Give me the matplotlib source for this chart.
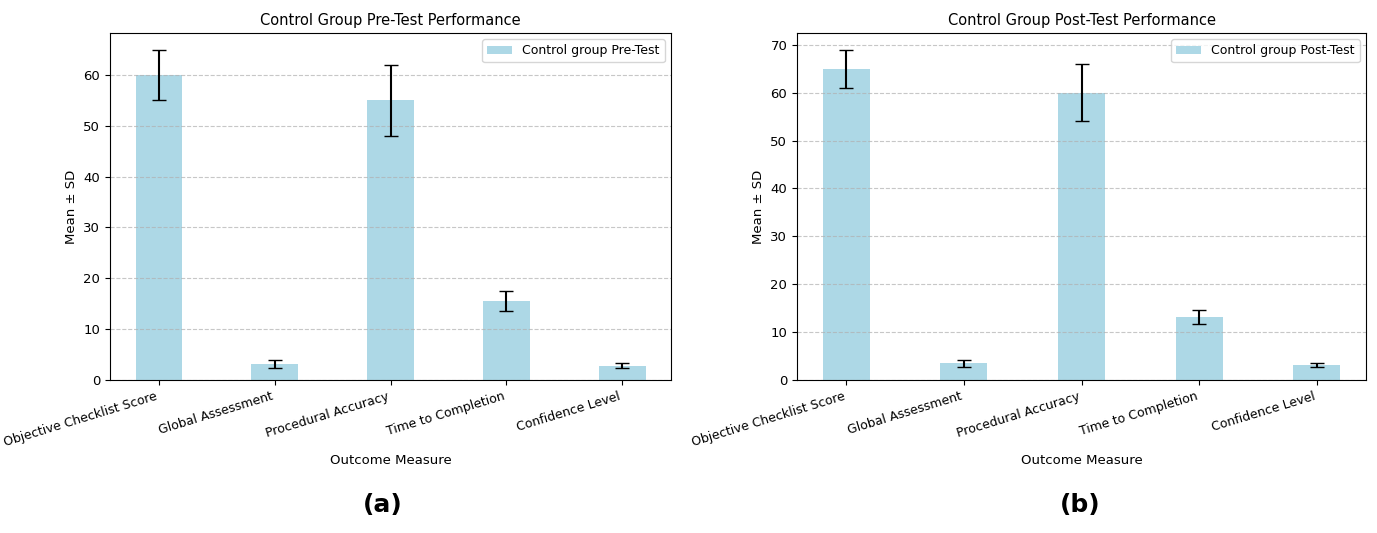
import numpy as np
import matplotlib
matplotlib.use('Agg')
import matplotlib.pyplot as plt

measures = ['Objective Checklist Score', 'Global Assessment', 'Procedural Accuracy',
            'Time to Completion', 'Confidence Level']

pre_means = [60, 3.2, 55, 15.5, 2.8]
pre_sds = [5, 0.8, 7, 2, 0.5]

post_means = [65, 3.5, 60, 13.2, 3.2]
post_sds = [4, 0.7, 6, 1.5, 0.4]

fig = plt.figure(figsize=(13.77, 5.33), dpi=100)
ax1 = fig.add_axes([110 / 1377, 1 - 380 / 533, (671 - 110) / 1377, (380 - 33) / 533])
ax2 = fig.add_axes([797 / 1377, 1 - 380 / 533, (1366 - 797) / 1377, (380 - 33) / 533])


def plot_panel(ax, means, sds, title, label):
    x = np.arange(len(measures))
    ax.bar(x, means, 0.4, yerr=sds, capsize=5, color='lightblue', label=label)
    ax.set_title(title, fontsize=10.5)
    ax.set_xlabel('Outcome Measure', fontsize=9.5)
    ax.set_ylabel('Mean ± SD', fontsize=9.5)
    ax.set_xticks(x)
    ax.set_xticklabels(measures, rotation=17, ha='right', fontsize=9)
    ax.tick_params(axis='y', labelsize=9.5)
    ax.legend(fontsize=9)
    ax.grid(axis='y', linestyle='--', alpha=0.7)


plot_panel(ax1, pre_means, pre_sds, 'Control Group Pre-Test Performance', 'Control group Pre-Test')
plot_panel(ax2, post_means, post_sds, 'Control Group Post-Test Performance', 'Control group Post-Test')

fig.text(383 / 1377, 1 - 505 / 533, '(a)', fontsize=18, fontweight='bold', ha='center', va='center')
fig.text(1080 / 1377, 1 - 505 / 533, '(b)', fontsize=18, fontweight='bold', ha='center', va='center')

plt.savefig('out.png', dpi=100)
